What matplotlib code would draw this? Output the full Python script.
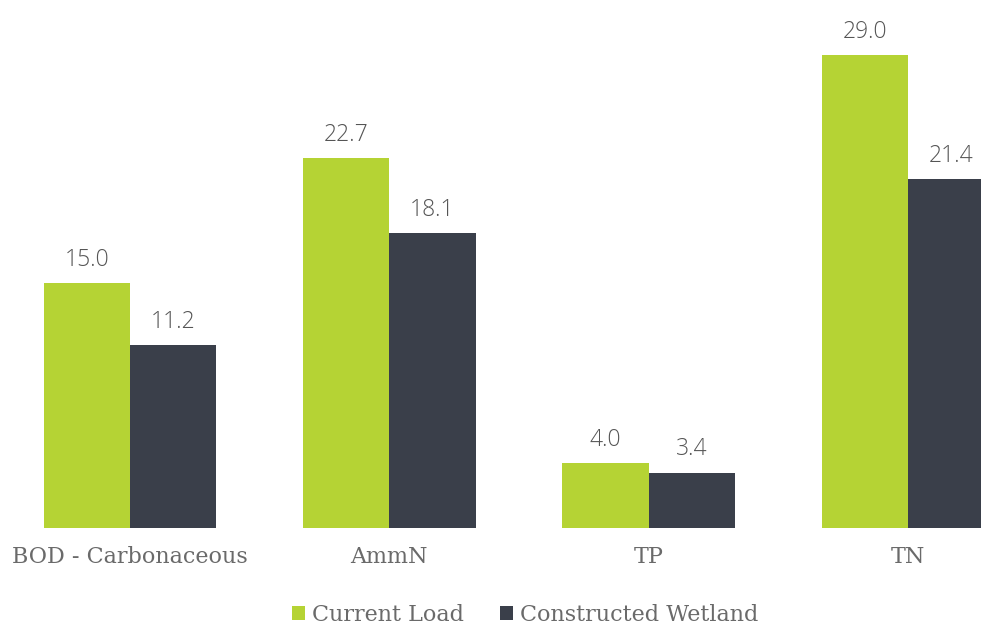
import matplotlib
matplotlib.use("Agg")
import matplotlib.pyplot as plt
import numpy as np

categories = ["BOD - Carbonaceous", "AmmN", "TP", "TN"]
series_names = ["Current Load", "Constructed Wetland"]
current_load = [15.0, 22.7, 4.0, 29.0]
constructed_wetland = [11.2, 18.1, 3.4, 21.4]
colors = ["#b5d334", "#3a3f4a"]
text_color = "#6a6a6a"

W, H = 981, 625
fig = plt.figure(figsize=(W / 100, H / 100), dpi=100)
ax = fig.add_axes([0, 97 / H, 1, 528 / H])

x = np.arange(len(categories))
bw = 0.3333
for i, (vals, name) in enumerate(zip([current_load, constructed_wetland], series_names)):
    pos = x + (i - 0.5) * bw
    ax.bar(pos, vals, width=bw, color=colors[i], label=name)
    for p, v in zip(pos, vals):
        ax.annotate(f"{v:.1f}", (p, v), xytext=(0, 8), textcoords="offset points",
                    ha="center", va="bottom", fontsize=16.5, color="#555555",
                    family=["Open Sans", "DejaVu Sans"], fontweight="light")

ppu = 259.33
ax.set_xlim(-130 / ppu, (W - 130) / ppu)
ax.set_ylim(0, 528 / 16.31)
ax.axis("off")

for xi, c in zip(x, categories):
    fig.text((130 + xi * ppu) / W, 1 - 557 / H, c, ha="center", va="center",
             fontsize=16, color=text_color, family=["DejaVu Serif"], fontweight="light")

handles, labels = ax.get_legend_handles_labels()
leg = fig.legend(handles, labels, loc="center", bbox_to_anchor=(525 / W, 1 - 615 / H),
                 ncol=2, frameon=False, handlelength=0.6, handleheight=0.6,
                 handletextpad=0.3, columnspacing=1.6,
                 prop={"family": "DejaVu Serif", "size": 16})
for t in leg.get_texts():
    t.set_color(text_color)

fig.savefig("out.png", dpi=100)
